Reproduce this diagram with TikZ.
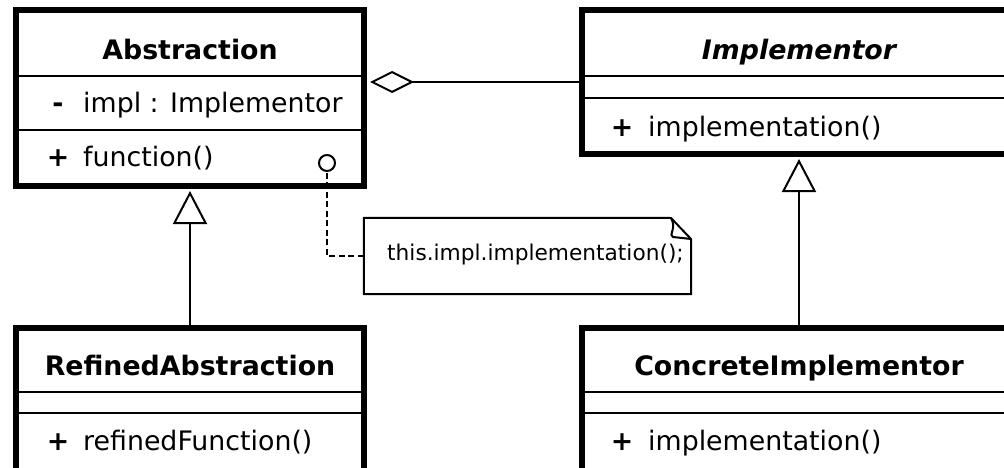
\documentclass[tikz,border=0pt]{standalone}
\usepackage{fontspec}
\setmainfont{DejaVu Sans}
\usetikzlibrary{arrows.meta}
\begin{document}
\begin{tikzpicture}[x=1pt,y=-1pt,
  classbox/.style={draw,line width=6pt,rectangle,inner sep=0pt},
  thinline/.style={line width=2pt},
  ttl/.style={font=\fontsize{26.8}{30}\selectfont\bfseries, anchor=base, inner sep=0pt},
  ttlit/.style={font=\fontsize{26.8}{30}\selectfont\bfseries\itshape, anchor=base, inner sep=0pt},
  mem/.style={font=\fontsize{26.8}{30}\selectfont, anchor=base west, inner sep=0pt},
  vis/.style={font=\fontsize{26.8}{30}\selectfont\bfseries, anchor=base, inner sep=0pt},
  notetxt/.style={font=\fontsize{21.7}{25}\selectfont, anchor=base west, inner sep=0pt},
  dashline/.style={line width=2pt, dash pattern=on 6pt off 3.5pt},
  inherit/.style={thinline, -{Triangle[open,length=33pt,width=34pt]}, shorten >=2pt},
  aggr/.style={thinline, -{Diamond[open,length=44pt,width=22pt]}, shorten >=3pt}]
\useasboundingbox (0,0) rectangle (1004,468);
\fill[white] (0,0) rectangle (1004,468);
% class boxes
\node[classbox, minimum width=348pt, minimum height=176pt] (abs) at (190,98) {};
\node[classbox, minimum width=434pt, minimum height=144pt] (impl) at (799,82) {};
\node[classbox, minimum width=348pt, minimum height=192pt] (ref) at (190,424) {};
\node[classbox, minimum width=434pt, minimum height=192pt] (conc) at (799,424) {};
% dividers
\draw[thinline] (16,76) -- (364,76);
\draw[thinline] (16,130) -- (364,130);
\draw[thinline] (582,76) -- (1016,76);
\draw[thinline] (582,98) -- (1016,98);
\draw[thinline] (16,392) -- (364,392);
\draw[thinline] (16,413) -- (364,413);
\draw[thinline] (582,392) -- (1016,392);
\draw[thinline] (582,413) -- (1016,413);
% texts
\node[ttl] (absT) at (190,60) {Abstraction};
\node[vis] (absV1) at (58,113) {-};
\node[mem] (absA) at (83,113) {impl : Implementor};
\node[vis] (absV2) at (58,167) {+};
\node[mem] (absM) at (83,167) {function()};
\node[ttlit] (implT) at (799,60) {Implementor};
\node[vis] (implV) at (622,137) {+};
\node[mem] (implM) at (648,137) {implementation()};
\node[ttl] (refT) at (190,375) {RefinedAbstraction};
\node[vis] (refV) at (58,450) {+};
\node[mem] (refM) at (83,450) {refinedFunction()};
\node[ttl] (concT) at (799,375) {ConcreteImplementor};
\node[vis] (concV) at (622,450) {+};
\node[mem] (concM) at (648,450) {implementation()};
% note
\node[minimum width=327pt, minimum height=76pt, inner sep=0pt] (note) at (527.5,256) {};
\draw[thinline, fill=white] (note.north west) -- (671,218) -- (691,239) -- (note.south east) -- (note.south west) -- cycle;
\draw[thinline, line join=round] (671,218) .. controls (677,228) and (668,236) .. (673,237) -- (691,239);
\node[notetxt] (noteT) at (387,260) {this.impl.implementation();};
\node[draw, thinline, circle, minimum size=16pt, inner sep=0pt, fill=white] (dot) at (327,163) {};
\draw[dashline] (note.west) -| (dot.south);
% connectors
\draw[aggr] (impl.west) -- (abs.east |- impl.west);
\draw[inherit] (ref.north) -- (abs.south);
\draw[inherit] (conc.north) -- (impl.south);
\end{tikzpicture}
\end{document}
